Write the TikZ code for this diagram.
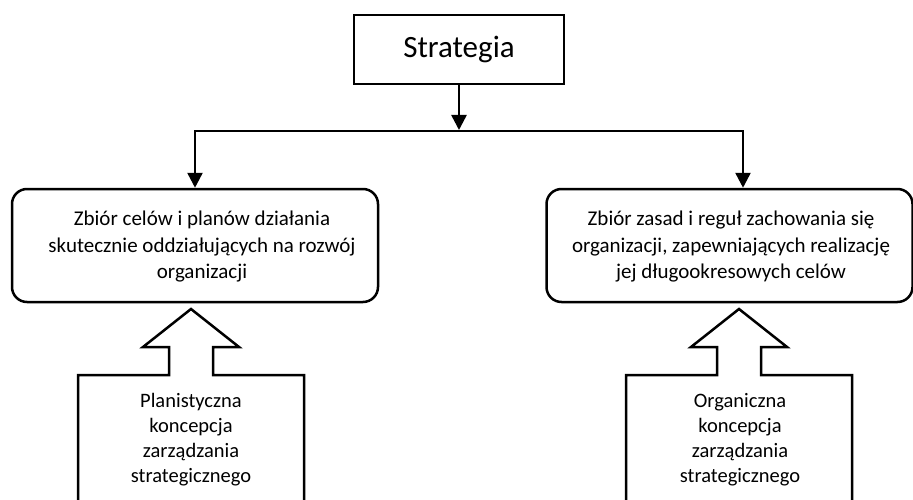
\documentclass[tikz,border=0pt]{standalone}
\usepackage{fontspec}
\setmainfont{Carlito}
\usetikzlibrary{arrows.meta}
\begin{document}
\begin{tikzpicture}[x=1pt,y=-1pt,
  line/.style={line width=2.5pt, line join=miter},
  tip/.style={-{Triangle[length=15pt,width=15pt]}},
  bothtips/.style={{Triangle[length=15pt,width=15pt]}-{Triangle[length=15pt,width=15pt]}},
  titlebox/.style={draw, line width=2.5pt, minimum width=210pt, minimum height=69pt,
    font=\fontsize{31}{37}\selectfont, inner sep=0pt},
  goalbox/.style={draw, line width=2.5pt, rounded corners=15pt, minimum width=366pt,
    minimum height=113pt, inner sep=0pt},
  goaltext/.style={align=center, font=\fontsize{21}{26.5}\selectfont, inner sep=0pt},
  blocktext/.style={align=center, font=\fontsize{20.5}{25}\selectfont, inner sep=0pt},
]
\useasboundingbox (0,0) rectangle (913,500);

% top concept
\node[titlebox] (strat) at (459,49.5) {Strategia};

% two definitions
\node[goalbox] (goals) at (195,245.5) {};
\node[goaltext] (goalstext) at (202,247)
  {Zbiór celów i planów działania\\skutecznie oddziałujących na rozwój\\organizacji};
\node[goalbox] (rules) at (729.5,245.5) {};
\node[goaltext] (rulestext) at (731,247)
  {Zbiór zasad i reguł zachowania się\\organizacji, zapewniających realizację\\jej długookresowych celów};

% branching connectors
\coordinate (split) at (459,130);
\coordinate (lc) at (195,131);
\coordinate (rc) at (743,131);
\draw[line, tip] (strat.south) -- (split);
\draw[line, bothtips] (goals.north -| lc) -- (lc) -- (rc) -- (rules.north -| rc);

% block arrows pointing up into the definitions
\draw[line] (78,505) -- (78,375) -- (169,375) -- (169,347) -- (143,347) -- (191,309)
  -- (239,347) -- (213,347) -- (213,375) -- (304,375) -- (304,505);
\node[blocktext] (plan) at (191,440)
  {Planistyczna\\koncepcja\\zarządzania\\strategicznego};

\draw[line] (626,505) -- (626,375) -- (717,375) -- (717,347) -- (691,347) -- (739,309)
  -- (787,347) -- (761,347) -- (761,375) -- (852,375) -- (852,505);
\node[blocktext] (organic) at (740,440)
  {Organiczna\\koncepcja\\zarządzania\\strategicznego};
\end{tikzpicture}
\end{document}
